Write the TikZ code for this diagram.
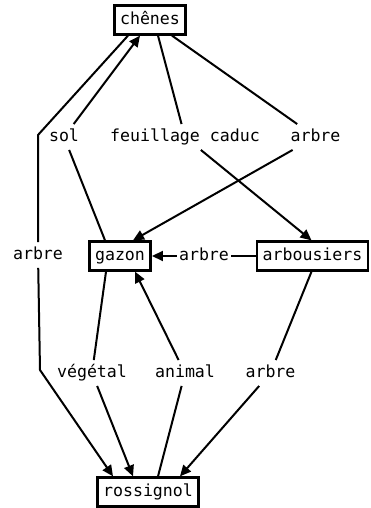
\documentclass[tikz,border=0pt]{standalone}
\usepackage{fontspec}
\setmonofont{DejaVu Sans Mono}
\usetikzlibrary{arrows.meta}
\tikzset{
  box/.style={draw, line width=2.8pt, inner xsep=5.6pt, minimum height=28.5pt},
  lab/.style={inner xsep=2pt, inner ysep=5pt},
  fl/.style={line width=2pt, -{Triangle[length=11pt,width=10pt]}}
}
\begin{document}
\begin{tikzpicture}[x=1pt, y=1pt, font=\ttfamily\fontsize{16.6}{20}\selectfont,
  every node/.append style={text height=12pt, text depth=3.5pt}]
    \useasboundingbox (0,0) rectangle (370,508);
    %boites
    \node[box] (chenes) at (150,488) {chênes};
    \node[box] (gazon) at (120,252) {gazon};
    \node[box] (arbousiers) at (312.5,252) {arbousiers};
    \node[box] (rossignol) at (148,16) {rossignol};
    %etiquettes
    \node[lab] (sol) at (64,371) {sol};
    \node[lab] (feuil) at (185,371) {feuillage caduc};
    \node[lab] (arbreR) at (315.5,371) {arbre};
    \node[lab] (arbreL) at (38,253) {arbre};
    \node[lab] (arbreM) at (204,252) {arbre};
    \node[lab] (veg) at (92,135) {végétal};
    \node[lab] (animal) at (185,135) {animal};
    \node[lab] (arbreB) at (270.5,135) {arbre};
    %fleches
    \draw[fl] ([xshift=-22pt]chenes.south) -- (38,373) -- (arbreL) -- (40,138) -- ([xshift=-35pt]rossignol.north);
    \draw[fl] ([xshift=-15pt]gazon.north) -- (sol) -- ([xshift=-10pt]chenes.south);
    \draw[fl] ([xshift=8pt]chenes.south) -- (feuil) -- ([xshift=-1pt]arbousiers.north);
    \draw[fl] ([xshift=22pt]chenes.south) -- (arbreR) -- ([xshift=13pt]gazon.north);
    \draw[fl] (arbousiers) -- (arbreM) -- (gazon);
    \draw[fl] ([xshift=-14pt]gazon.south) -- (veg) -- ([xshift=-15pt]rossignol.north);
    \draw[fl] ([xshift=10pt]rossignol.north) -- (animal) -- ([xshift=15pt]gazon.south);
    \draw[fl] ([xshift=-1pt]arbousiers.south) -- (arbreB) -- ([xshift=32pt]rossignol.north);
\end{tikzpicture}
\end{document}
